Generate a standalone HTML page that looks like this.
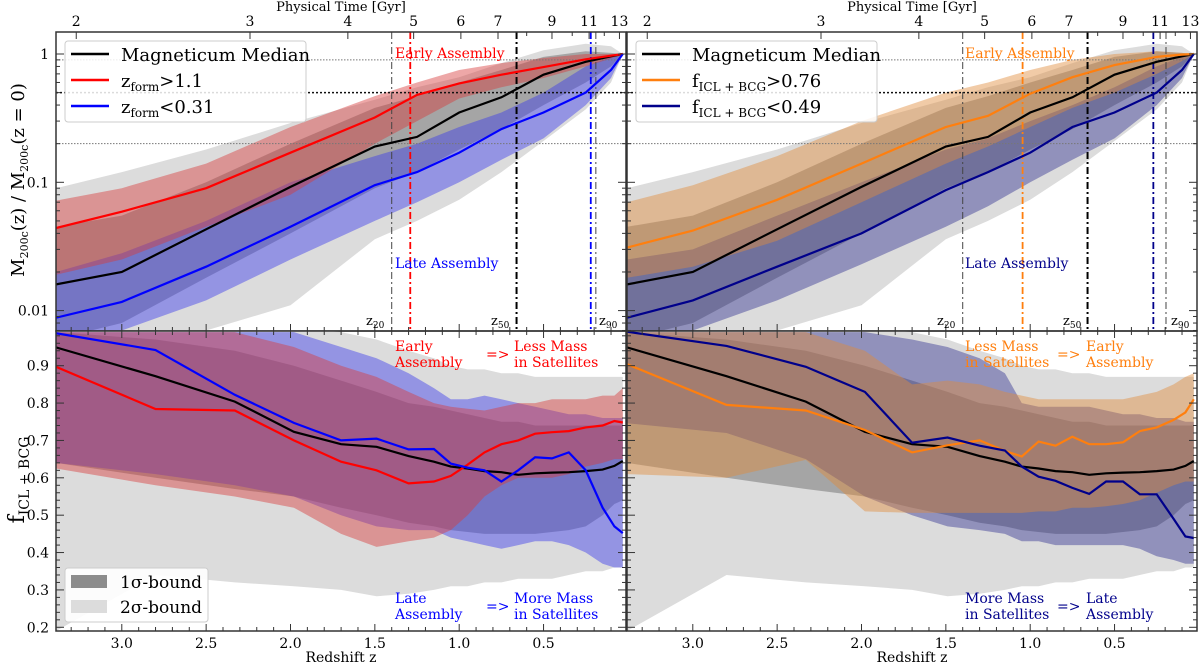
<!DOCTYPE html>
<html><head><meta charset="utf-8">
<style>
html,body{margin:0;padding:0;background:#fff;}
svg{display:block;font-family:"DejaVu Serif","Liberation Serif",serif;}
</style></head>
<body>
<svg id="fig" xmlns="http://www.w3.org/2000/svg" width="1200" height="664" viewBox="0 0 1200 664">
<defs>
<clipPath id="c-tl"><rect x="56" y="32" width="570" height="299"/></clipPath>
<clipPath id="c-tr"><rect x="627" y="32" width="570" height="299"/></clipPath>
<clipPath id="c-bl"><rect x="56" y="331" width="570" height="300"/></clipPath>
<clipPath id="c-br"><rect x="627" y="331" width="570" height="300"/></clipPath>
</defs>
</svg>
<script>
// ---------- data ----------
const zTop = [3.39,3.0,2.5,2.0,1.5,1.25,1.0,0.75,0.5,0.25,0.1,0.03];
const medTop = [0.016,0.020,0.043,0.092,0.19,0.226,0.35,0.46,0.69,0.87,0.96,1.0];
const redTop = [0.044,0.059,0.09,0.17,0.32,0.48,0.59,0.69,0.79,0.91,0.97,1.0];
const blueTop = [0.0088,0.0117,0.022,0.045,0.095,0.12,0.17,0.26,0.35,0.5,0.75,1.0];
const orangeTop = [0.031,0.042,0.073,0.14,0.27,0.33,0.49,0.66,0.82,0.95,0.99,1.0];
const navyTop = [0.0088,0.012,0.022,0.04,0.087,0.12,0.17,0.27,0.35,0.5,0.75,1.0];
const g2TopHi = [0.09,0.12,0.18,0.29,0.44,0.55,0.66,0.85,1.07,1.2,1.15,1.0];
const g2TopLo = [0.005,0.006,0.007,0.011,0.036,0.05,0.073,0.12,0.21,0.37,0.6,1.0];
const g1TopHi = [0.045,0.055,0.1,0.2,0.38,0.47,0.6,0.75,0.95,1.05,1.02,1.0];
const g1TopLo = [0.006,0.008,0.018,0.04,0.09,0.12,0.18,0.26,0.4,0.6,0.8,1.0];
const redTopHi = [0.072,0.09,0.14,0.27,0.47,0.6,0.75,0.85,0.93,1.0,1.0,1.0];
const redTopLo = [0.019,0.025,0.045,0.08,0.2,0.3,0.45,0.55,0.65,0.8,0.92,1.0];
const blueTopHi = [0.02,0.028,0.05,0.1,0.16,0.2,0.27,0.35,0.5,0.8,0.95,1.0];
const blueTopLo = [0.005,0.007,0.012,0.025,0.05,0.07,0.1,0.15,0.22,0.4,0.65,1.0];
const orangeTopHi = [0.07,0.095,0.16,0.3,0.5,0.6,0.75,0.9,1.0,1.05,1.02,1.0];
const orangeTopLo = [0.018,0.022,0.035,0.07,0.14,0.19,0.27,0.38,0.5,0.7,0.88,1.0];
const navyTopHi = [0.025,0.03,0.055,0.1,0.18,0.22,0.3,0.4,0.55,0.8,0.95,1.0];
const navyTopLo = [0.005,0.007,0.012,0.023,0.045,0.065,0.1,0.15,0.22,0.4,0.65,1.0];

const zBot = [3.39,2.8,2.33,1.98,1.7,1.49,1.3,1.15,1.05,0.95,0.85,0.75,0.65,0.55,0.45,0.35,0.25,0.15,0.08,0.03];
const medBot = [0.949,0.872,0.804,0.723,0.69,0.683,0.658,0.643,0.63,0.625,0.618,0.615,0.608,0.612,0.614,0.615,0.618,0.622,0.632,0.645];
const redBot = [0.897,0.784,0.78,0.70,0.643,0.62,0.585,0.59,0.605,0.635,0.668,0.69,0.70,0.718,0.722,0.725,0.735,0.74,0.752,0.748];
const blueBot = [0.987,0.942,0.822,0.747,0.70,0.705,0.676,0.677,0.638,0.627,0.62,0.59,0.62,0.655,0.652,0.668,0.62,0.52,0.47,0.452];
const orangeBot = [0.904,0.795,0.78,0.728,0.668,0.687,0.70,0.672,0.657,0.697,0.686,0.71,0.69,0.69,0.695,0.725,0.735,0.755,0.775,0.81];
const navyBot = [0.991,0.953,0.897,0.83,0.694,0.708,0.686,0.673,0.63,0.603,0.592,0.573,0.557,0.59,0.59,0.556,0.556,0.49,0.443,0.439];
const g2BotHi = [1.0,1.0,1.0,1.0,0.99,0.97,0.94,0.92,0.9,0.89,0.89,0.88,0.88,0.87,0.87,0.87,0.87,0.87,0.87,0.87];
const g2BotLo = [0.19,0.34,0.32,0.31,0.30,0.283,0.29,0.30,0.31,0.31,0.32,0.32,0.33,0.33,0.33,0.34,0.35,0.35,0.36,0.36];
const g1BotHi = [0.99,0.97,0.94,0.9,0.86,0.83,0.8,0.79,0.78,0.77,0.76,0.75,0.75,0.74,0.74,0.74,0.74,0.74,0.74,0.74];
const g1BotLo = [0.64,0.6,0.57,0.55,0.52,0.5,0.48,0.47,0.46,0.455,0.45,0.45,0.45,0.45,0.455,0.46,0.47,0.5,0.53,0.54];
const redBotHi = [0.99,0.99,0.99,0.95,0.9,0.87,0.83,0.8,0.79,0.785,0.78,0.79,0.8,0.8,0.81,0.81,0.81,0.82,0.82,0.84];
const redBotLo = [0.625,0.58,0.55,0.52,0.45,0.415,0.43,0.44,0.46,0.5,0.55,0.58,0.6,0.6,0.6,0.61,0.63,0.64,0.65,0.65];
const blueBotHi = [0.99,0.99,0.99,0.99,0.95,0.92,0.88,0.84,0.81,0.81,0.82,0.81,0.8,0.79,0.78,0.77,0.77,0.76,0.76,0.76];
const blueBotLo = [0.64,0.61,0.58,0.55,0.5,0.47,0.46,0.46,0.44,0.43,0.42,0.41,0.42,0.43,0.43,0.42,0.4,0.37,0.36,0.36];
const orangeBotHi = [0.99,0.99,0.99,0.94,0.85,0.86,0.85,0.83,0.82,0.81,0.81,0.81,0.81,0.81,0.81,0.82,0.83,0.85,0.87,0.88];
const orangeBotLo = [0.61,0.6,0.648,0.51,0.506,0.506,0.506,0.506,0.506,0.51,0.51,0.52,0.52,0.524,0.53,0.54,0.56,0.58,0.59,0.59];
const navyBotHi = [0.99,0.99,0.99,0.99,0.97,0.95,0.92,0.88,0.8,0.79,0.79,0.79,0.79,0.78,0.77,0.77,0.76,0.76,0.75,0.75];
const navyBotLo = [0.746,0.72,0.65,0.55,0.5,0.47,0.46,0.45,0.43,0.43,0.42,0.42,0.42,0.42,0.42,0.41,0.39,0.38,0.37,0.37];

const xTickVals = [3.0,2.5,2.0,1.5,1.0,0.5];
const xTickLabels = ['3.0','2.5','2.0','1.5','1.0','0.5'];
const timeLabels = ['2','3','4','5','6','7','9','11','13'];
const timeZ = [3.27,2.24,1.66,1.27,0.99,0.77,0.45,0.23,0.05];
const timeMinorZ = [0.6,0.33,0.14];
const topYTicks = [1,0.1,0.01];
const topYLabels = ['1','0.1','0.01'];
const botYTicks = [0.9,0.8,0.7,0.6,0.5,0.4,0.3,0.2];
const botYLabels = ['0.9','0.8','0.7','0.6','0.5','0.4','0.3','0.2'];
const vLinesLeft = [1.40,0.66,0.19];
const vLinesRight = [1.40,0.66,0.195];
const zformLeft = [1.29,0.22];
const zformRight = [1.045,0.27];
const hLines = [0.9,0.5,0.2];

// ---------- helpers ----------
const svg = document.getElementById('fig');
const NS = 'http://www.w3.org/2000/svg';
function add(parent, tag, attrs, name, inter) {
  const el = document.createElementNS(NS, tag);
  for (const k in attrs) el.setAttribute(k, attrs[k]);
  
  
  parent.appendChild(el);
  return el;
}
const panels = {
  tl:{x0:56,y0:32,w:570,h:299,log:true},
  tr:{x0:627,y0:32,w:570,h:299,log:true},
  bl:{x0:56,y0:331,w:570,h:300,log:false},
  br:{x0:627,y0:331,w:570,h:300,log:false}
};
function xOf(p,z){ return p.x0 + (3.39 - z)*168.7; }
function yOf(p,v){ return p.log ? 54 + (-Math.log10(v))*128.3 : 365.7 + (0.9 - v)*373.7; }
function linePath(p,zs,vs){ return zs.map((z,i)=>(i?'L':'M')+xOf(p,z).toFixed(1)+','+yOf(p,vs[i]).toFixed(1)).join(''); }
function bandPath(p,zs,hi,lo){
  let d = linePath(p,zs,hi);
  for (let i=zs.length-1;i>=0;i--) d += 'L'+xOf(p,zs[i]).toFixed(1)+','+yOf(p,lo[i]).toFixed(1);
  return d+'Z';
}
function txt(parent,x,y,s,attrs,name){
  const t = add(parent,'text',Object.assign({x:x,y:y},attrs||{}),name);
  t.textContent = s;
  return t;
}

function drawPanel(key, sets, vlines, zfl, zcols){
  const p = panels[key];
  const g = add(svg,'g',{'clip-path':'url(#c-'+key+')'},'panel-'+key+'-plot-area');
  const zs = p.log ? zTop : zBot;
  add(g,'path',{d:bandPath(p,zs,sets.g2hi,sets.g2lo),fill:'#dcdcdc'},'band-2sigma');
  add(g,'path',{d:bandPath(p,zs,sets.g1hi,sets.g1lo),fill:'rgba(120,120,120,0.55)'},'band-1sigma');
  add(g,'path',{d:bandPath(p,zs,sets.bhi,sets.blo),fill:sets.bfill},'band-late');
  add(g,'path',{d:bandPath(p,zs,sets.ahi,sets.alo),fill:sets.afill},'band-early');
  if (p.log){
    hLines.forEach((v,i)=>{
      add(g,'line',{x1:p.x0,x2:p.x0+p.w,y1:yOf(p,v),y2:yOf(p,v),stroke:i==1?'#111':'#777','stroke-width':i==1?1.5:1,'stroke-dasharray':i==1?'2,2':'1.5,1.5'},'mass-fraction-line-'+v);
    });
    vlines.forEach((z,i)=>{
      add(g,'line',{x1:xOf(p,z),x2:xOf(p,z),y1:p.y0,y2:p.y0+p.h,stroke:i==1?'#000':'#444','stroke-width':i==1?2:1,'stroke-dasharray':'7,3,2,3'},'z-line-'+['20','50','90'][i]);
    });
    zfl.forEach((z,i)=>{
      add(g,'line',{x1:xOf(p,z),x2:xOf(p,z),y1:p.y0,y2:p.y0+p.h,stroke:zcols[i],'stroke-width':1.8,'stroke-dasharray':'7,3,2,3'},'zform-line-'+(i?'late':'early'));
    });
  }
  add(g,'path',{d:linePath(p,zs,sets.med),fill:'none',stroke:'#000','stroke-width':2.2},'median-line');
  add(g,'path',{d:linePath(p,zs,sets.a),fill:'none',stroke:sets.acol,'stroke-width':2.2},'early-line');
  add(g,'path',{d:linePath(p,zs,sets.b),fill:'none',stroke:sets.bcol,'stroke-width':2.2},'late-line');
  add(svg,'rect',{x:p.x0,y:p.y0,width:p.w,height:p.h,fill:'none',stroke:'#333','stroke-width':1.5},'panel-'+key+'-frame');
  const tg = add(svg,'g',{stroke:'#333','stroke-width':1},'panel-'+key+'-ticks');
  for (let k=1;k<=33;k++){
    const z = k/10, x = xOf(p,z), major = (k%5==0);
    const L = major?7:4;
    add(tg,'line',{x1:x,x2:x,y1:p.y0+p.h,y2:p.y0+p.h-L},'x-tick');
    if(!p.log) add(tg,'line',{x1:x,x2:x,y1:p.y0,y2:p.y0+L},'x-tick-top');
  }
  if (p.log){
    timeZ.forEach(z=>{const x=xOf(p,z); add(tg,'line',{x1:x,x2:x,y1:p.y0,y2:p.y0+7},'time-tick');});
    timeMinorZ.forEach(z=>{const x=xOf(p,z); add(tg,'line',{x1:x,x2:x,y1:p.y0,y2:p.y0+4},'time-minor-tick');});
    for (let dec=-3;dec<=0;dec++) for(let m=1;m<10;m++){
      const v=m*Math.pow(10,dec); const y=yOf(p,v);
      if (y<p.y0||y>p.y0+p.h) continue;
      const L = m==1?8:4;
      add(tg,'line',{x1:p.x0,x2:p.x0+L,y1:y,y2:y},'y-tick');
      add(tg,'line',{x1:p.x0+p.w,x2:p.x0+p.w-L,y1:y,y2:y},'y-tick-right');
    }
  } else {
    for (let k=20;k<=99;k+=2){
      const v=k/100,y=yOf(p,v),L=(k%10==0)?8:4;
      add(tg,'line',{x1:p.x0,x2:p.x0+L,y1:y,y2:y},'y-tick');
      add(tg,'line',{x1:p.x0+p.w,x2:p.x0+p.w-L,y1:y,y2:y},'y-tick-right');
    }
  }
}

drawPanel('tl',{g2hi:g2TopHi,g2lo:g2TopLo,g1hi:g1TopHi,g1lo:g1TopLo,ahi:redTopHi,alo:redTopLo,bhi:blueTopHi,blo:blueTopLo,
  afill:'rgba(215,60,60,0.45)',bfill:'rgba(60,60,235,0.45)',med:medTop,a:redTop,b:blueTop,acol:'#ff0000',bcol:'#0000ff'},vLinesLeft,zformLeft,['#ff0000','#0000ff']);
drawPanel('tr',{g2hi:g2TopHi,g2lo:g2TopLo,g1hi:g1TopHi,g1lo:g1TopLo,ahi:orangeTopHi,alo:orangeTopLo,bhi:navyTopHi,blo:navyTopLo,
  afill:'rgba(225,140,60,0.45)',bfill:'rgba(40,40,140,0.42)',med:medTop,a:orangeTop,b:navyTop,acol:'#ff7f0e',bcol:'#00008b'},vLinesRight,zformRight,['#ff7f0e','#00008b']);
drawPanel('bl',{g2hi:g2BotHi,g2lo:g2BotLo,g1hi:g1BotHi,g1lo:g1BotLo,ahi:redBotHi,alo:redBotLo,bhi:blueBotHi,blo:blueBotLo,
  afill:'rgba(215,60,60,0.45)',bfill:'rgba(60,60,235,0.45)',med:medBot,a:redBot,b:blueBot,acol:'#ff0000',bcol:'#0000ff'});
drawPanel('br',{g2hi:g2BotHi,g2lo:g2BotLo,g1hi:g1BotHi,g1lo:g1BotLo,ahi:orangeBotHi,alo:orangeBotLo,bhi:navyBotHi,blo:navyBotLo,
  afill:'rgba(225,140,60,0.45)',bfill:'rgba(40,40,140,0.42)',med:medBot,a:orangeBot,b:navyBot,acol:'#ff7f0e',bcol:'#00008b'});

['bl','br'].forEach(k=>{const p=panels[k];
  xTickVals.forEach((z,i)=>txt(svg,xOf(p,z),648,xTickLabels[i],{'font-size':14,'text-anchor':'middle'},'x-tick-label'));
  txt(svg,p.x0+p.w/2,662,'Redshift z',{'font-size':14,'text-anchor':'middle'},'x-axis-title');
});
['tl','tr'].forEach(k=>{const p=panels[k];
  timeZ.forEach((z,i)=>txt(svg,xOf(p,z),26,timeLabels[i],{'font-size':14,'text-anchor':'middle'},'time-tick-label'));
  txt(svg,p.x0+p.w/2,11,'Physical Time [Gyr]',{'font-size':13,'text-anchor':'middle'},'top-axis-title');
});
topYTicks.forEach((v,i)=>txt(svg,49,yOf(panels.tl,v)+5,topYLabels[i],{'font-size':14,'text-anchor':'end'},'y-tick-label'));
botYTicks.forEach((v,i)=>txt(svg,49,yOf(panels.bl,v)+5,botYLabels[i],{'font-size':14,'text-anchor':'end'},'y-tick-label'));

function ann(x,y,s,col,name,size){ return txt(svg,x,y,s,{'font-size':size||14,fill:col},name); }
ann(395,58,'Early Assembly','#ff0000','early-assembly-label');
ann(395,268,'Late Assembly','#0000ff','late-assembly-label');
ann(965,58,'Early Assembly','#ff7f0e','early-assembly-label-right');
ann(965,268,'Late Assembly','#00008b','late-assembly-label-right');
function zlab(x,n){ const t=txt(svg,x,325,'z',{'font-size':13},'z'+n+'-label'); const s=add(t,'tspan',{'font-size':9,dy:3},'z-sub'); s.textContent=n; }
zlab(366,'20'); zlab(491,'50'); zlab(599,'90');
zlab(937,'20'); zlab(1063,'50'); zlab(1171,'90');
ann(395,351,'Early','#ff0000','bl-early-1'); ann(395,367,'Assembly','#ff0000','bl-early-2');
ann(486,359,'=>','#ff0000','bl-arrow-1');
ann(514,351,'Less Mass','#ff0000','bl-less-1'); ann(514,367,'in Satellites','#ff0000','bl-less-2');
ann(395,603,'Late','#0000ff','bl-late-1'); ann(395,619,'Assembly','#0000ff','bl-late-2');
ann(486,611,'=>','#0000ff','bl-arrow-2');
ann(514,603,'More Mass','#0000ff','bl-more-1'); ann(514,619,'in Satellites','#0000ff','bl-more-2');
ann(965,351,'Less Mass','#ff7f0e','br-less-1'); ann(965,367,'in Satellites','#ff7f0e','br-less-2');
ann(1057,359,'=>','#ff7f0e','br-arrow-1');
ann(1086,351,'Early','#ff7f0e','br-early-1'); ann(1086,367,'Assembly','#ff7f0e','br-early-2');
ann(965,603,'More Mass','#00008b','br-more-1'); ann(965,619,'in Satellites','#00008b','br-more-2');
ann(1057,611,'=>','#00008b','br-arrow-2');
ann(1086,603,'Late','#00008b','br-late-1'); ann(1086,619,'Assembly','#00008b','br-late-2');

function legend(x0,labels,cols,name){
  const g = add(svg,'g',{},name);
  add(g,'rect',{x:x0,y:41,width:241,height:81,rx:3,fill:'rgba(255,255,255,0.85)',stroke:'#ccc'},'legend-box');
  labels.forEach((l,i)=>{
    const y = 54 + i*26;
    add(g,'line',{x1:x0+6,x2:x0+44,y1:y,y2:y,stroke:cols[i],'stroke-width':2.5},'legend-line');
    const t = txt(g,x0+56,y+7,l[0],{'font-size':18},'legend-entry');
    if (l[1]){ const s=add(t,'tspan',{'font-size':12,dy:4},'legend-sub'); s.textContent=l[1];
      const r=add(t,'tspan',{'font-size':18,dy:-4},'legend-rest'); r.textContent=l[2]; }
  });
}
legend(65,[['Magneticum Median'],['z','form','>1.1'],['z','form','<0.31']],['#000','#ff0000','#0000ff'],'legend-top-left');
legend(636,[['Magneticum Median'],['f','ICL + BCG','>0.76'],['f','ICL + BCG','<0.49']],['#000','#ff7f0e','#00008b'],'legend-top-right');
const lg = add(svg,'g',{},'legend-sigma');
add(lg,'rect',{x:65,y:568,width:143,height:54,rx:3,fill:'rgba(255,255,255,0.9)',stroke:'#ccc'},'legend-box');
add(lg,'rect',{x:71,y:575,width:36,height:13,fill:'#8c8c8c'},'legend-1sigma-patch');
add(lg,'rect',{x:71,y:600,width:36,height:13,fill:'#dcdcdc'},'legend-2sigma-patch');
txt(lg,120,588,'1σ-bound',{'font-size':17},'legend-1sigma');
txt(lg,120,613,'2σ-bound',{'font-size':17},'legend-2sigma');

const yt = txt(svg,0,0,'M',{'font-size':18,transform:'translate(24,180) rotate(-90)','text-anchor':'middle'},'y-axis-title-top');
[['200c',11,4],['(z) / M',18,-4],['200c',11,4],['(z = 0)',18,-4]].forEach(a=>{const s=add(yt,'tspan',{'font-size':a[1],dy:a[2]},'y-title-part'); s.textContent=a[0];});
const yb = txt(svg,0,0,'f',{'font-size':22,transform:'translate(24,480) rotate(-90)','text-anchor':'middle'},'y-axis-title-bottom');
const ys = add(yb,'tspan',{'font-size':14,dy:5},'y-title-sub'); ys.textContent='ICL + BCG';
</script>
</body></html>
